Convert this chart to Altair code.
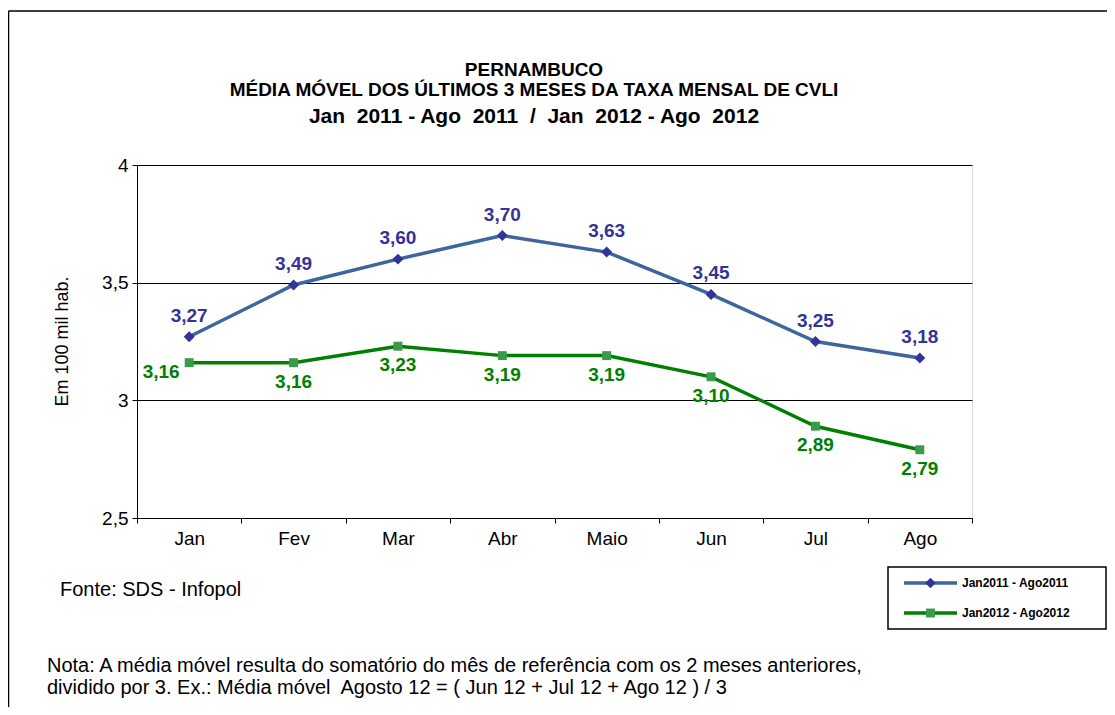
import altair as alt
import pandas as pd

meses = ["Jan", "Fev", "Mar", "Abr", "Maio", "Jun", "Jul", "Ago"]
serie_2011 = [3.27, 3.49, 3.60, 3.70, 3.63, 3.45, 3.25, 3.18]
serie_2012 = [3.16, 3.16, 3.23, 3.19, 3.19, 3.10, 2.89, 2.79]
nome_2011 = "Jan2011 - Ago2011"
nome_2012 = "Jan2012 - Ago2012"

titulo = ["PERNAMBUCO",
          "MÉDIA MÓVEL DOS ÚLTIMOS 3 MESES DA TAXA MENSAL DE CVLI",
          "Jan\u00a0 2011 - Ago\u00a0 2011\u00a0 /\u00a0 Jan\u00a0 2012 - Ago\u00a0 2012"]
fonte_txt = "Fonte: SDS - Infopol"
nota_txt = ["Nota: A média móvel resulta do somatório do mês de referência com os 2 meses anteriores,",
            "dividido por 3. Ex.: Média móvel\u00a0 Agosto 12 = ( Jun 12 + Jul 12 + Ago 12 ) / 3"]

df = pd.DataFrame({
    "mes": meses * 2,
    "valor": serie_2011 + serie_2012,
    "serie": [nome_2011] * len(meses) + [nome_2012] * len(meses),
})

FONT = "Liberation Sans"
BLUE_LINE = "#3c669c"
BLUE_MK = "#333399"
GREEN_LINE = "#008000"
GREEN_MK = "#3a9a4a"

x = alt.X("mes:N", sort=meses, title=None,
          axis=alt.Axis(labelAngle=0, tickBand="extent", labelFontSize=19,
                        labelPadding=6, tickSize=5, tickColor="black",
                        domainColor="black", labelColor="black", labelFont=FONT))
y = alt.Y("valor:Q", scale=alt.Scale(domain=[2.5, 4.0], nice=False, zero=False),
          title="Em 100 mil hab.",
          axis=alt.Axis(values=[2.5, 3.0, 3.5, 4.0], grid=True, gridColor="black",
                        gridWidth=1.2, gridOpacity=1,
                        labelExpr="replace(format(datum.value, '~g'), '.', ',')",
                        labelFontSize=19, labelFont=FONT, labelColor="black",
                        tickSize=5, tickColor="black", domainColor="black",
                        labelPadding=4, titleFont=FONT, titleFontSize=18,
                        titleFontWeight="normal", titleColor="black",
                        titleX=-75, titleY=176, titleAngle=-90,
                        titleAlign="center", titleBaseline="middle"))

base = alt.Chart(df).encode(x=x, y=y)

lines = base.mark_line(strokeWidth=3.5).encode(
    color=alt.Color("serie:N",
                    scale=alt.Scale(domain=[nome_2011, nome_2012],
                                    range=[BLUE_LINE, GREEN_LINE]),
                    legend=None)
)

pts_blue = base.transform_filter(alt.datum.serie == nome_2011).mark_point(
    shape="diamond", filled=True, size=120, color=BLUE_MK, opacity=1)
pts_green = base.transform_filter(alt.datum.serie == nome_2012).mark_square(
    size=80, color=GREEN_MK, opacity=1)

lab = base.transform_calculate(
    rot="replace(format(datum.valor, '.2f'), '.', ',')")
lab_blue = lab.transform_filter(alt.datum.serie == nome_2011).mark_text(
    font=FONT, fontSize=19, fontWeight="bold", color=BLUE_MK, dy=-21
).encode(text="rot:N")
lab_green = lab.transform_filter(
    (alt.datum.serie == nome_2012) & (alt.datum.mes != "Jan")).mark_text(
    font=FONT, fontSize=19, fontWeight="bold", color=GREEN_LINE, dy=19
).encode(text="rot:N")
lab_green_jan = lab.transform_filter(
    (alt.datum.serie == nome_2012) & (alt.datum.mes == "Jan")).mark_text(
    font=FONT, fontSize=19, fontWeight="bold", color=GREEN_LINE, dx=-28, dy=9
).encode(text="rot:N")


def texto(t, xv, yv, size, weight="normal", align="left", color="black"):
    return alt.Chart(pd.DataFrame({"t": [t]})).mark_text(
        font=FONT, fontSize=size, fontWeight=weight, align=align,
        baseline="middle", color=color
    ).encode(text="t:N", x=alt.value(xv), y=alt.value(yv))


t1 = texto(titulo[0], 397, -95, 19, "bold", "center")
t2 = texto(titulo[1], 397, -75, 19, "bold", "center")
t3 = texto(titulo[2], 397, -48, 21, "bold", "center")
fonte = texto(fonte_txt, -77, 425, 20)
nota1 = texto(nota_txt[0], -90, 501, 20)
nota2 = texto(nota_txt[1], -90, 523, 20)

one = pd.DataFrame({"a": [0]})
frame_top = alt.Chart(one).mark_rule(color="black", strokeWidth=1.5).encode(
    x=alt.value(-128.5), x2=alt.value(975), y=alt.value(-154))
frame_left = alt.Chart(one).mark_rule(color="black", strokeWidth=1.5).encode(
    x=alt.value(-128.5), y=alt.value(-154), y2=alt.value(545))

# legend (drawn by hand so the box matches the original)
leg_box = alt.Chart(one).mark_rect(fill="white", stroke="black",
                                   strokeWidth=1.5).encode(
    x=alt.value(751), x2=alt.value(969), y=alt.value(402), y2=alt.value(464))
leg_l1 = alt.Chart(one).mark_rule(color=BLUE_LINE, strokeWidth=3.5).encode(
    x=alt.value(767), x2=alt.value(820), y=alt.value(418))
leg_p1 = alt.Chart(one).mark_point(shape="diamond", filled=True, size=110,
                                   color=BLUE_MK, opacity=1).encode(
    x=alt.value(793.5), y=alt.value(418))
leg_t1 = texto(nome_2011, 825, 418, 12, "bold")
leg_l2 = alt.Chart(one).mark_rule(color=GREEN_LINE, strokeWidth=3.5).encode(
    x=alt.value(767), x2=alt.value(820), y=alt.value(448))
leg_p2 = alt.Chart(one).mark_square(size=80, color=GREEN_MK, opacity=1).encode(
    x=alt.value(793.5), y=alt.value(448))
leg_t2 = texto(nome_2012, 825, 448, 12, "bold")

chart = alt.layer(
    lines, pts_blue, pts_green, lab_blue, lab_green, lab_green_jan,
    t1, t2, t3, fonte, nota1, nota2, frame_top, frame_left,
    leg_box, leg_l1, leg_p1, leg_t1, leg_l2, leg_p2, leg_t2
).properties(
    width=835, height=353,
    autosize=alt.AutoSizeParams(type="none"),
    padding={"left": 129, "top": 157, "right": 135, "bottom": 189},
).configure_view(stroke="black", strokeWidth=1.5).configure(
    background="white")

chart.save("out.html", embed_options={"renderer": "svg", "actions": False})
